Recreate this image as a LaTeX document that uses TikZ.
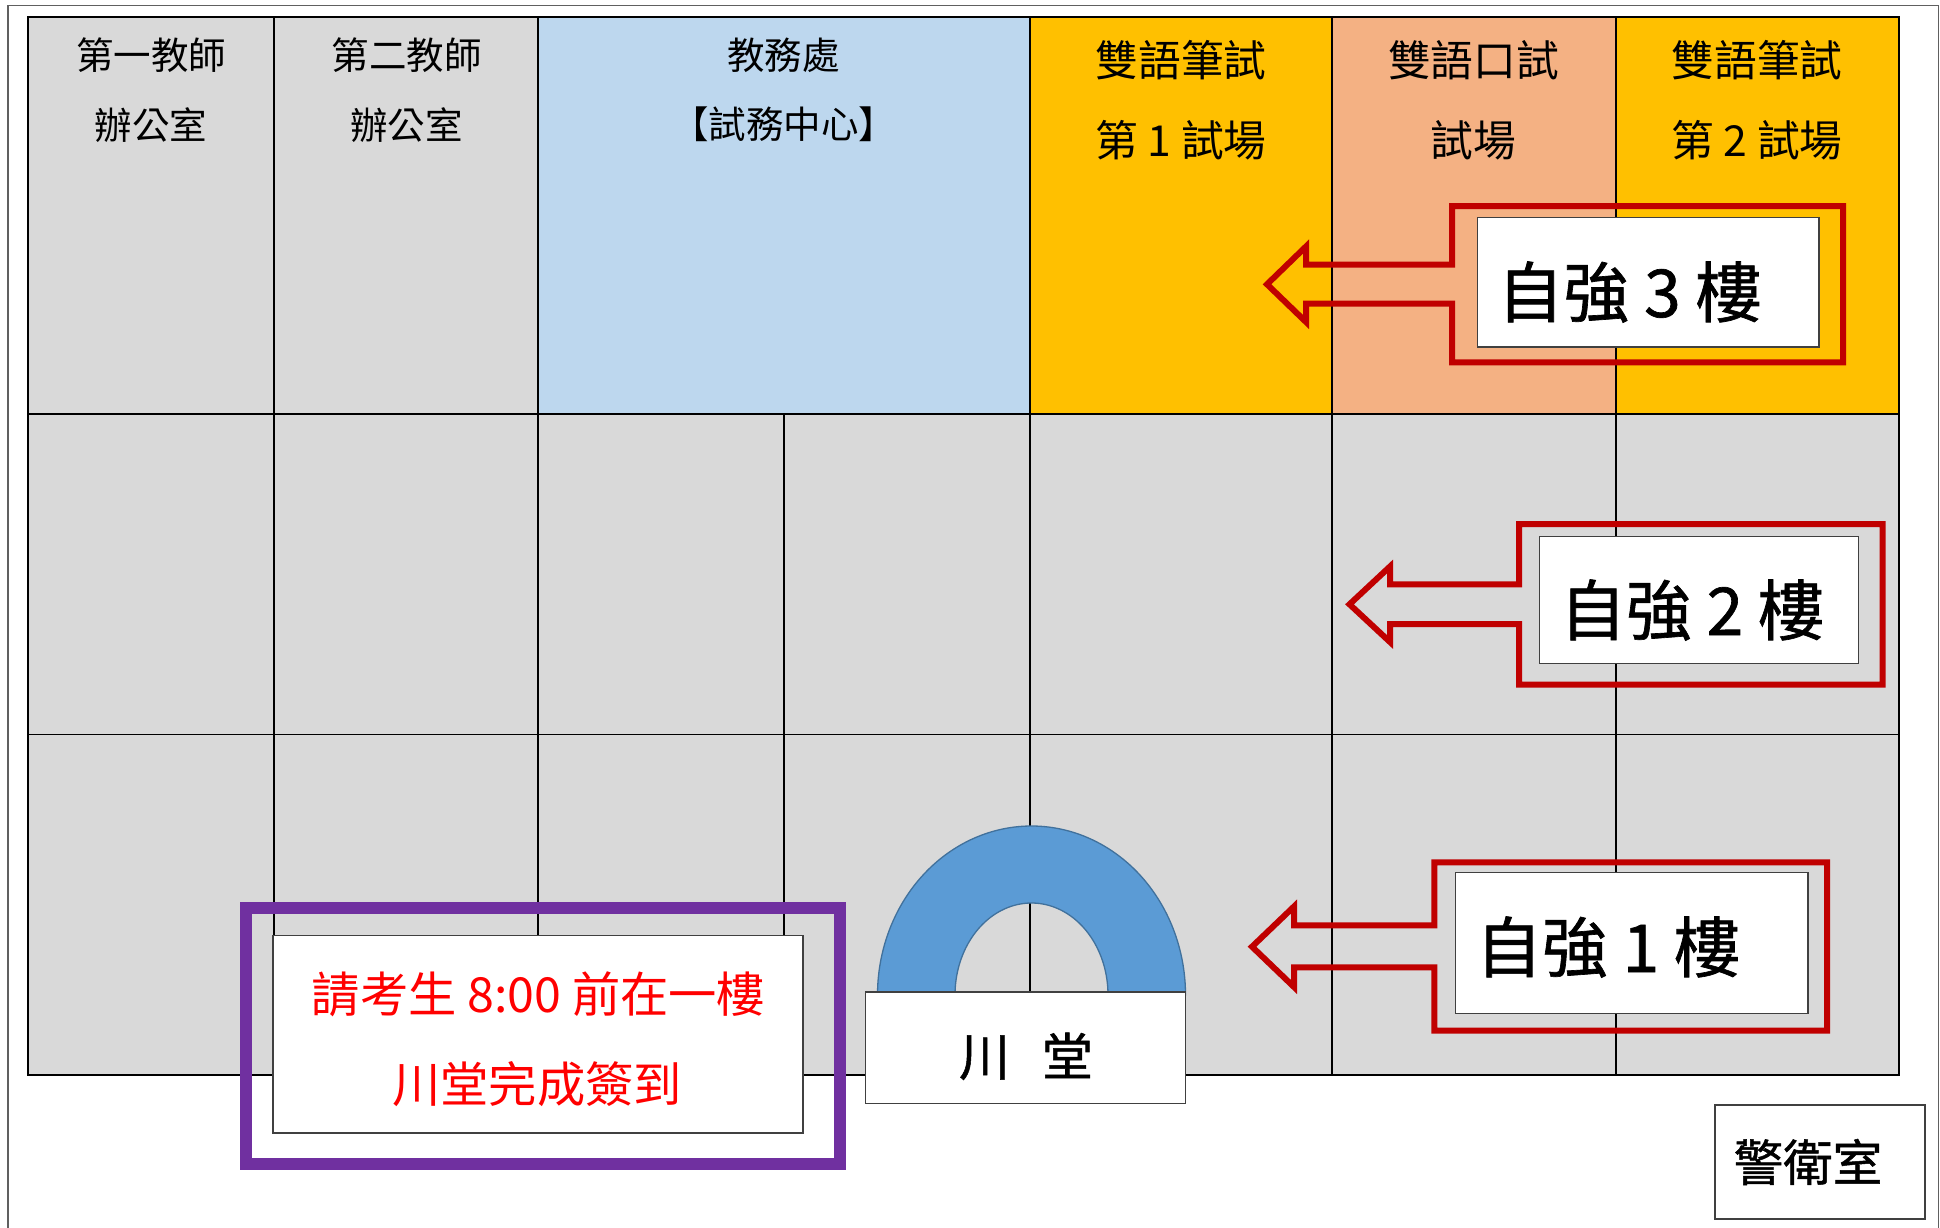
\documentclass[tikz,border=0pt]{standalone}
\usepackage{fontspec}
\setmainfont{Noto Sans CJK TC}
\newfontfamily\heavycjk[FakeBold=1]{Noto Sans CJK TC}
\definecolor{cellgray}{HTML}{D9D9D9}
\definecolor{cellblue}{HTML}{BDD7EE}
\definecolor{cellgold}{HTML}{FFC000}
\definecolor{cellsalmon}{HTML}{F4B183}
\definecolor{archblue}{HTML}{5B9BD5}
\definecolor{archline}{HTML}{41719C}
\definecolor{calloutred}{HTML}{C00000}
\definecolor{signpurple}{HTML}{7030A0}
\definecolor{framegray}{HTML}{606060}
\tikzset{
  x=1pt,y=-1pt,
  cell/.style={draw=black,line width=1.6pt},
  whitebox/.style={draw=black!75,fill=white,line width=1.3pt},
  callout/.style={draw=calloutred,line width=6pt,miter limit=10},
  lab/.style={anchor=base,inner sep=0pt,font=\fontsize{#1}{#1}\selectfont},
  heavylab/.style={anchor=base,inner sep=0pt,font=\heavycjk\fontsize{#1}{#1}\selectfont},
}
\begin{document}
\begin{tikzpicture}
\useasboundingbox (0,0) rectangle (1940,1228);
\fill[white] (0,0) rectangle (1940,1228);
\draw[framegray,line width=1.6pt] (8,1240) -- (8,5.5) -- (1938.5,5.5) -- (1938.5,1240);
% top row
\fill[cellgray] (28,17) rectangle (538,414);
\fill[cellblue] (538,17) rectangle (1030,414);
\fill[cellgold] (1030,17) rectangle (1332,414);
\fill[cellsalmon] (1332,17) rectangle (1616,414);
\fill[cellgold] (1616,17) rectangle (1899,414);
\fill[cellgray] (28,414) rectangle (1899,1075);
% grid lines
\draw[cell] (28,17) rectangle (1899,1075);
\draw[cell] (28,414) -- (1899,414);
\draw[cell] (28,734.5) -- (1899,734.5);
\foreach \cx in {274,538,1030,1332,1616} \draw[cell] (\cx,17) -- (\cx,1075);
\draw[cell] (784,414) -- (784,1075);
% arch
\draw[fill=archblue,draw=archline,line width=1.3pt]
  plot[domain=180:0,samples=90,smooth] ({1031.5+154*cos(\x)},{995-169*sin(\x)})
  -- plot[domain=0:180,samples=90,smooth] ({1031.5+76.5*cos(\x)},{995-92*sin(\x)})
  -- cycle;
% room labels
\node[lab=37.5] (r1a) at (151,69.5) {第一教師};
\node[lab=37.5] (r1b) at (151,139.5) {辦公室};
\node[lab=37.5] (r2a) at (406.5,69.5) {第二教師};
\node[lab=37.5] (r2b) at (406.5,139.5) {辦公室};
\node[lab=37.5] (r3a) at (783.5,69.5) {教務處};
\node[lab=37.5] (r3b) at (783.5,139) {【試務中心】};
\node[lab=42.7] (r4a) at (1181,76.5) {雙語筆試};
\node[lab=42.7] (r4b) at (1181,156.5) {第 1 試場};
\node[lab=42.7] (r5a) at (1473.5,76.5) {雙語口試};
\node[lab=42.7] (r5b) at (1473.5,156.5) {試場};
\node[lab=42.7] (r6a) at (1757,76.5) {雙語筆試};
\node[lab=42.7] (r6b) at (1757,156.5) {第 2 試場};
% callouts
\draw[callout] (1452,206) -- (1843,206) -- (1843,362.3) -- (1452,362.3) -- (1452,303.7) -- (1306,303.7) -- (1306,322) -- (1267,284.3) -- (1306,246.5) -- (1306,264.7) -- (1452,264.7) -- cycle;
\draw[callout] (1519.2,524) -- (1882.5,524) -- (1882.5,684.7) -- (1519.2,684.7) -- (1519.2,624) -- (1390,624) -- (1390,642) -- (1349.5,604.3) -- (1390,566.5) -- (1390,584.3) -- (1519.2,584.3) -- cycle;
\draw[callout] (1434.4,862.3) -- (1827,862.3) -- (1827,1030.7) -- (1434.4,1030.7) -- (1434.4,967.3) -- (1294,967.3) -- (1294,987) -- (1252,946.7) -- (1294,906.5) -- (1294,925.3) -- (1434.4,925.3) -- cycle;
% boxes
\draw[whitebox] (1477.6,217.7) rectangle (1819,347);
\node[heavylab=66] (f3) at (1629.5,317) {自強 3 樓};
\draw[whitebox] (1539.5,536.3) rectangle (1858.5,663.3);
\node[heavylab=66] (f2) at (1692,635) {自強 2 樓};
\draw[whitebox] (1455.8,872.7) rectangle (1808,1013.3);
\node[heavylab=66] (f1) at (1608,972) {自強 1 樓};
\draw[whitebox] (865.4,992) rectangle (1185.6,1103.7);
\node[heavylab=51] (hall) at (1026,1075.5) {川\hspace{32pt}堂};
\draw[whitebox,line width=1.6pt] (1715,1105) rectangle (1925,1218.7);
\node[heavylab=49.5] (guard) at (1808,1181) {警衛室};
\draw[whitebox] (273,935.7) rectangle (803,1133);
\node[lab=48.3,text=red] (n1) at (538.5,1012) {請考生 8:00 前在一樓};
\node[lab=48.3,text=red] (n2) at (537,1102.5) {川堂完成簽到};
\draw[signpurple,line width=12pt] (246,908) rectangle (840,1164);
\end{tikzpicture}
\end{document}
